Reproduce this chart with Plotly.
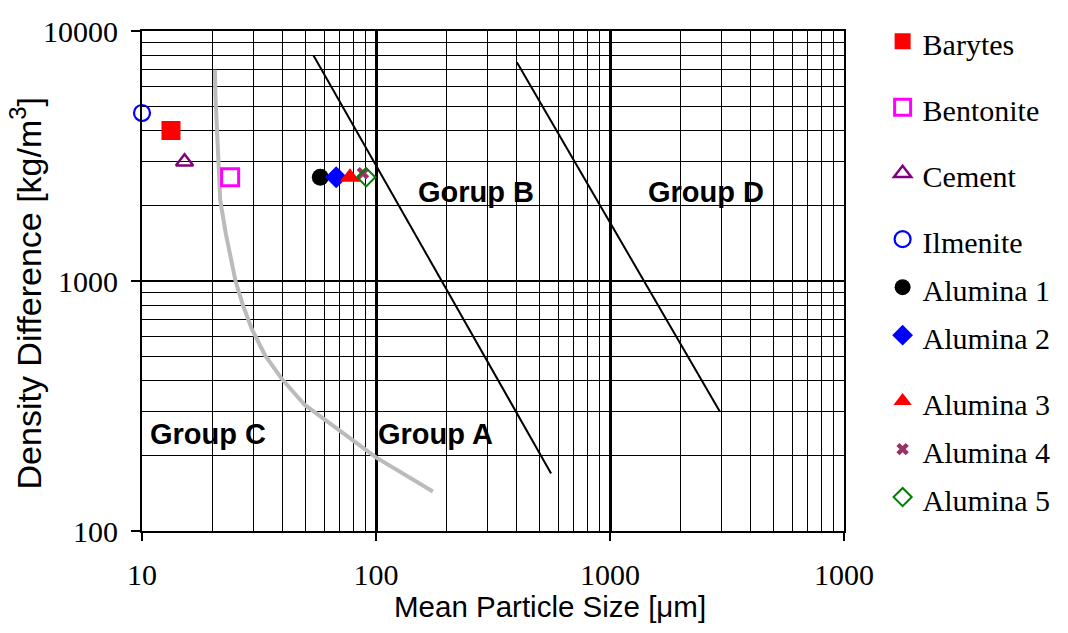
import math
import plotly.graph_objects as go

# ---- data ----
names = ["Barytes", "Bentonite", "Cement", "Ilmenite",
         "Alumina 1", "Alumina 2", "Alumina 3", "Alumina 4", "Alumina 5"]
size_um = [13.3, 23.8, 15.2, 10.0, 57.8, 67.6, 77.4, 87.9, 90.8]
density = [4000, 2600, 3000, 4700, 2600, 2600, 2600, 2700, 2600]
groups = ["g1", "g2", "g3", "g4", "g4", "g4", "g5", "g5", "g5"]

symbols = ["square", "square-open", "triangle-up-open", "circle-open",
           "circle", "diamond", "triangle-up", "x", "diamond-open"]
colors = ["#FF0000", "#FF00FF", "#800080", "#0000FF",
          "#000000", "#0000FF", "#FF0000", "#993366", "#008000"]
msizes = [19, 17, 15, 16, 17, 17, 18, 11, 14]
mlines = [0, 3, 2.5, 2.2, 0, 0, 0, 0, 2]

# group boundaries
ab_x = [54, 560]
ab_y = [8000, 170]
bd_x = [400, 2950]
bd_y = [7500, 300]
ca_x = [20.5, 20.6, 21.0, 21.6, 22.8, 25.1, 27.0, 29.5, 33.6, 39.5, 49.5, 70.7, 100, 175]
ca_y = [7000, 5500, 3700, 2100, 1550, 1000, 800, 640, 504, 407, 320, 251, 197, 144]

group_labels = ["Group C", "Group A", "Gorup B", "Group D"]
group_lab_x = [19.2, 180, 267, 2566]
group_lab_y = [244, 244, 2270, 2270]

x_ticks = [10, 100, 1000, 10000]
x_ticktext = ["10", "100", "1000", "1000"]
y_ticks = [100, 1000, 10000]
y_ticktext = ["100", "1000", "10000"]

x_title = "Mean Particle Size [μm]"
y_title = "Density Difference [kg/m<sup>3</sup>]"

x_minor = [m * 10 ** e for e in range(1, 4) for m in range(2, 10)]
y_minor = [m * 10 ** e for e in range(2, 4) for m in range(2, 10)]

SERIF = "Liberation Serif, Times New Roman, serif"
SANS = "Liberation Sans, Arial, sans-serif"

fig = go.Figure()

fig.add_trace(go.Scatter(x=ca_x, y=ca_y, mode="lines", showlegend=False,
                         line=dict(color="#BBBBBB", width=4), hoverinfo="skip"))
fig.add_trace(go.Scatter(x=ab_x, y=ab_y, mode="lines", showlegend=False,
                         line=dict(color="black", width=2), hoverinfo="skip"))
fig.add_trace(go.Scatter(x=bd_x, y=bd_y, mode="lines", showlegend=False,
                         line=dict(color="black", width=2), hoverinfo="skip"))

for i, n in enumerate(names):
    fig.add_trace(go.Scatter(
        x=[size_um[i]], y=[density[i]], mode="markers",
        name="<span style='font-size:30px'>" + n + "</span>",
        legendgroup=groups[i],
        cliponaxis=False,
        marker=dict(symbol=symbols[i], size=msizes[i], color=colors[i],
                    line=dict(color=colors[i], width=mlines[i]))))

for t, gx, gy in zip(group_labels, group_lab_x, group_lab_y):
    fig.add_annotation(x=math.log10(gx), y=math.log10(gy), text="<b>" + t + "</b>",
                       showarrow=False, font=dict(family=SANS, size=29, color="black"))

# axis titles (placed as in the reference)
fig.add_annotation(xref="paper", yref="paper", x=0.581, y=-0.150, text=x_title,
                   showarrow=False, xanchor="center", yanchor="middle",
                   font=dict(family=SANS, size=29.5, color="black"))
fig.add_annotation(xref="paper", yref="paper", x=-0.166, y=0.476, text=y_title,
                   showarrow=False, xanchor="center", yanchor="middle", textangle=-90,
                   font=dict(family=SANS, size=34, color="black"))

fig.update_layout(
    width=1068, height=633,
    margin=dict(l=142, r=216, t=25, b=102),
    paper_bgcolor="white", plot_bgcolor="white",
    legend=dict(font=dict(family=SERIF, size=34.6, color="black"),
                x=1.055, y=1.0375, xanchor="left", yanchor="top", maxheight=620,
                tracegroupgap=18, bgcolor="rgba(0,0,0,0)", itemsizing="trace"),
)

fig.update_xaxes(
    type="log", range=[1, 4],
    tickmode="array", tickvals=x_ticks, ticktext=x_ticktext,
    ticks="outside", ticklen=8, tickwidth=2, tickcolor="black",
    tickfont=dict(family=SERIF, size=30, color="black"), ticklabelstandoff=8,
    showgrid=True, gridcolor="black", gridwidth=2.5,
    minor=dict(tickmode="array", tickvals=x_minor, showgrid=True,
               gridcolor="black", gridwidth=1.3, ticks=""),
    showline=True, linecolor="black", linewidth=2, mirror=True,
    zeroline=False, automargin=False,
)
fig.update_yaxes(
    type="log", range=[2, 4],
    tickmode="array", tickvals=y_ticks, ticktext=y_ticktext,
    ticks="outside", ticklen=9, tickwidth=2, tickcolor="black",
    tickfont=dict(family=SERIF, size=30, color="black"), ticklabelstandoff=7,
    showgrid=True, gridcolor="black", gridwidth=1.5,
    minor=dict(tickmode="array", tickvals=y_minor, showgrid=True,
               gridcolor="black", gridwidth=1.3, ticks=""),
    showline=True, linecolor="black", linewidth=2, mirror=True,
    zeroline=False, automargin=False,
)

fig.write_html("out.html", config={"displayModeBar": False},
               post_script="document.body.style.margin='0px';")
